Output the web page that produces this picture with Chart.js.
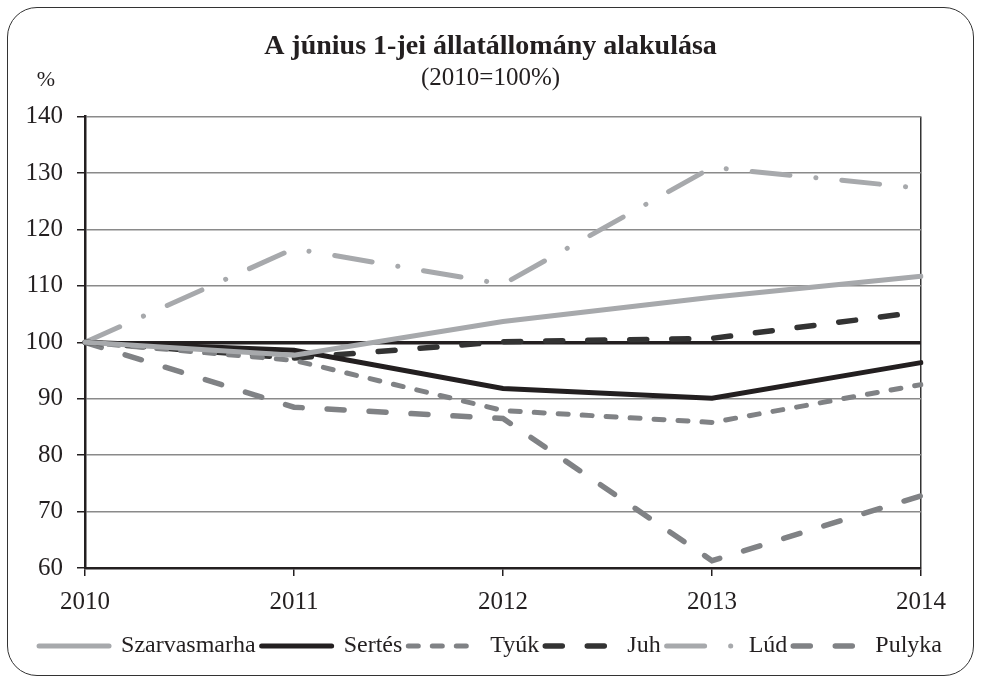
<!DOCTYPE html>
<html>
<head>
<meta charset="utf-8">
<script src="https://cdn.jsdelivr.net/npm/chart.js@4/dist/chart.umd.min.js"></script>
<style>
    html, body { margin: 0; padding: 0; background: #fff; }
    #wrap { position: relative; width: 981px; height: 682px; }
    #frame {
        position: absolute; left: 7px; top: 7px; width: 965px; height: 667px;
        border: 1.5px solid #333; border-radius: 30px; pointer-events: none;
    }
</style>
</head>
<body>
<div id="wrap">
    <canvas id="animalChart" width="981" height="682"></canvas>
    <div id="frame"></div>
</div>
<script>
const years = ['2010', '2011', '2012', '2013', '2014'];
const szarvasmarha = [100, 97.7, 103.7, 108.0, 111.7];
const sertes = [100, 98.6, 91.8, 90.1, 96.4];
const tyuk = [100, 96.8, 87.9, 85.8, 92.5];
const juh = [100, 97.2, 100.1, 100.7, 105.4];
const lud = [100, 116.6, 110.3, 131.0, 127.3];
const pulyka = [100, 88.5, 86.5, 61.3, 72.8];

const serif = "'Liberation Serif', 'DejaVu Serif', serif";

const percentLabel = {
    id: 'percentLabel',
    afterDraw(chart) {
        const c = chart.ctx;
        c.save();
        c.font = '22px ' + serif;
        c.fillStyle = '#231f20';
        c.textAlign = 'center';
        c.textBaseline = 'middle';
        c.fillText('%', 46, 80);
        c.restore();
    }
};

function line(label, data, color, width, dash) {
    return {
        label: label,
        data: data,
        borderColor: color,
        backgroundColor: color,
        borderWidth: width,
        borderDash: dash,
        borderCapStyle: 'round',
        pointRadius: 0,
        tension: 0,
        fill: false
    };
}

const ctx = document.getElementById('animalChart').getContext('2d');
new Chart(ctx, {
    type: 'line',
    data: {
        labels: years,
        datasets: [
            line('Szarvasmarha', szarvasmarha, '#a7a9ac', 5, []),
            line('Sertés', sertes, '#231f20', 5, []),
            line('Tyúk', tyuk, '#808285', 5, [10, 14]),
            line('Juh', juh, '#333333', 5.5, [17, 25]),
            line('Lúd', lud, '#a7a9ac', 5, [38, 26, 0.1, 26]),
            line('Pulyka', pulyka, '#808285', 5.5, [17, 25])
        ]
    },
    options: {
        responsive: false,
        animation: false,
        layout: { padding: { left: 5, right: 5, top: 11, bottom: 14 } },
        scales: {
            x: {
                offset: false,
                grid: {
                    color: (c) => c.index === 4 ? '#333' : 'transparent',
                    tickColor: '#231f20',
                    lineWidth: 1.5,
                    tickLength: 8
                },
                border: { color: '#231f20', width: 2.5 },
                ticks: {
                    color: '#231f20',
                    padding: 11,
                    maxRotation: 0,
                    font: { family: serif, size: 25 }
                }
            },
            y: {
                min: 60,
                max: 140,
                afterFit(scale) { scale.width = 80; },
                grid: {
                    color: (c) => c.tick && c.tick.value === 100 ? '#231f20' : '#8a8a8a',
                    lineWidth: (c) => c.tick && c.tick.value === 100 ? 3.5 : 1.5,
                    tickColor: '#231f20',
                    tickWidth: 1.5,
                    tickLength: 8
                },
                border: { color: '#231f20', width: 2.5 },
                ticks: {
                    stepSize: 10,
                    color: '#231f20',
                    padding: 14,
                    font: { family: serif, size: 25 }
                }
            },
            // empty right box so the plot ends at the same place as the original
            y2: {
                position: 'right',
                display: true,
                afterFit(scale) { scale.width = 55; },
                grid: { display: false },
                border: { display: false },
                ticks: { display: false }
            }
        },
        plugins: {
            title: {
                display: true,
                text: 'A június 1-jei állatállomány alakulása',
                color: '#231f20',
                font: { family: serif, size: 28, weight: 'bold' },
                padding: { top: 19, bottom: 0 }
            },
            subtitle: {
                display: true,
                text: '(2010=100%)',
                color: '#231f20',
                font: { family: serif, size: 25 },
                padding: { top: 0, bottom: 23 }
            },
            legend: {
                position: 'bottom',
                labels: {
                    usePointStyle: true,
                    pointStyle: 'line',
                    pointStyleWidth: 70,
                    padding: 6,
                    color: '#231f20',
                    font: { family: serif, size: 24 },
                    generateLabels(chart) {
                        const items = Chart.defaults.plugins.legend.labels.generateLabels(chart);
                        items.forEach(it => {
                            const ds = chart.data.datasets[it.datasetIndex];
                            it.lineDash = ds.borderDash;
                            it.lineCap = 'round';
                            it.lineWidth = ds.borderWidth;
                            it.strokeStyle = ds.borderColor;
                        });
                        return items;
                    }
                }
            },
            tooltip: { enabled: false }
        }
    },
    plugins: [percentLabel]
});
</script>
</body>
</html>
